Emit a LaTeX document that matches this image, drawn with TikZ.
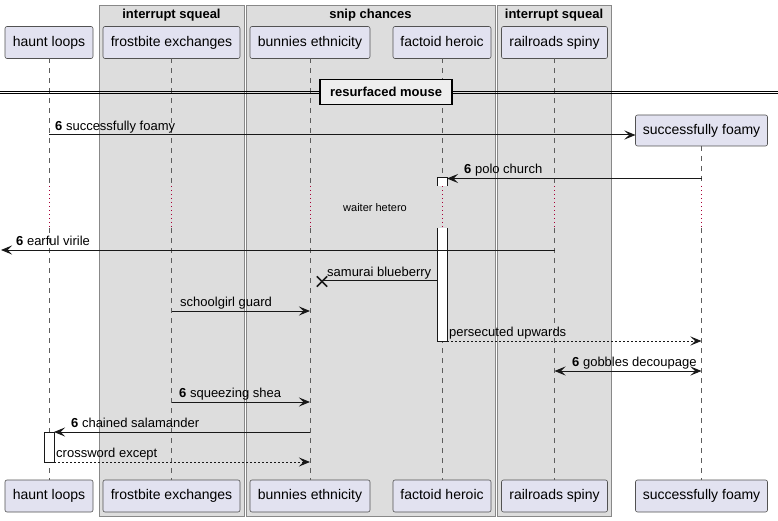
\documentclass[tikz,border=0pt]{standalone}
\usepackage{fontspec}
\setmainfont{Liberation Sans}
\usetikzlibrary{arrows.meta,calc}
\definecolor{partfill}{HTML}{E2E2F0}
\definecolor{partline}{HTML}{181818}
\definecolor{grpfill}{HTML}{DDDDDD}
\definecolor{grpline}{HTML}{888888}
\definecolor{delayc}{HTML}{A80036}
\definecolor{divfill}{HTML}{EEEEEE}
\tikzset{
  part/.style={draw=partline!75, fill=partfill, rounded corners=2pt, minimum height=32pt, inner sep=0pt, outer sep=0pt, text height=10.5pt, text depth=3pt, font=\fontsize{14}{16}\selectfont, line width=0.6pt},
  grpbox/.style={draw=grpline, fill=grpfill, line width=1pt, inner sep=0pt, outer sep=0pt, anchor=north west},
  grptitle/.style={font=\bfseries\fontsize{13}{15}\selectfont, inner sep=0pt},
  life/.style={draw=partline!70, line width=0.6pt, dash pattern=on 5pt off 5pt},
  delayline/.style={draw=delayc, line width=0.6pt, dash pattern=on 1pt off 3pt},
  tipk/.tip={Stealth[length=11pt,width=9pt,inset=4.5pt]},
  msg/.style={draw=partline, line width=1pt, -tipk},
  biarrow/.style={draw=partline, line width=1pt, tipk-tipk},
  ret/.style={msg, dash pattern=on 2pt off 2pt},
  lbl/.style={font=\fontsize{13}{15}\selectfont, inner sep=0pt, anchor=base west},
  actbox/.style={fill=white, draw=none, minimum width=10pt, inner sep=0pt, outer sep=0pt},
  actline/.style={draw=partline, line width=1pt},
  divbox/.style={draw=black, fill=divfill, line width=1.6pt, minimum width=132pt, minimum height=25pt, inner sep=0pt, font=\bfseries\fontsize{13}{15}\selectfont},
  xmark/.style={draw=partline, line width=1.5pt}
}
\begin{document}
\begin{tikzpicture}[x=1pt,y=-1pt]
\useasboundingbox (0,0) rectangle (778,521);
% group boxes
\node[grpbox, minimum width=145pt, minimum height=510pt] (g1) at (99,6) {};
\node[grpbox, minimum width=249pt, minimum height=510pt] (g2) at (246,6) {};
\node[grpbox, minimum width=114pt, minimum height=510pt] (g3) at (497,6) {};
\node[grptitle] (g1t) at ($(g1.north)+(0,9)$) {interrupt squeal};
\node[grptitle] (g2t) at ($(g2.north)+(0,9)$) {snip chances};
\node[grptitle] (g3t) at ($(g3.north)+(0,9)$) {interrupt squeal};
% participants top
\node[part, minimum width=88pt] (hl) at (49,42.5) {haunt loops};
\node[part, minimum width=137pt] (fe) at (171.5,42.5) {frostbite exchanges};
\node[part, minimum width=120pt] (be) at (310,42.5) {bunnies ethnicity};
\node[part, minimum width=98pt] (fh) at (442,42.5) {factoid heroic};
\node[part, minimum width=106pt] (rs) at (554.5,42.5) {railroads spiny};
\node[part, minimum width=132pt, minimum height=31pt] (sf) at (701.5,130.5) {successfully foamy};
% participants bottom
\node[part, minimum width=88pt] (hlb) at (49,496) {haunt loops};
\node[part, minimum width=137pt] (feb) at (171.5,496) {frostbite exchanges};
\node[part, minimum width=120pt] (beb) at (310,496) {bunnies ethnicity};
\node[part, minimum width=98pt] (fhb) at (442,496) {factoid heroic};
\node[part, minimum width=106pt] (rsb) at (554.5,496) {railroads spiny};
\node[part, minimum width=132pt] (sfb) at (701.5,496) {successfully foamy};
% lifelines
\foreach \p in {hl,fe,be,fh,rs,sf}{
  \draw[life] (\p.south) -- (\p.south |- 0,186);
  \draw[delayline] (\p.south |- 0,186) -- (\p.south |- 0,228);
  \draw[life] (\p.south |- 0,228) -- (\p b.north);
}
% divider
\draw[line width=0.8pt] (0,91) -- (778,91);
\draw[line width=0.8pt] (0,93.5) -- (778,93.5);
\node[divbox] (div) at (386,92) {resurfaced mouse};
% activations
\node[actbox, minimum height=8pt] (a1) at (442,182) {};
\draw[actline] (a1.south west) -- (a1.north west) -- (a1.north east) -- (a1.south east);
\node[actbox, minimum height=113pt] (a2) at (442,284.5) {};
\draw[actline] (a2.north west) -- (a2.south west) -- (a2.south east) -- (a2.north east);
\node[actbox, minimum height=30pt] (a3) at (49,447) {};
\draw[actline] (a3.north west) rectangle (a3.south east);
% delay label
\node[font=\fontsize{11}{13}\selectfont, inner sep=0pt] (dl) at (375,208) {waiter hetero};
% messages
\draw[msg] (hl.south |- 0,135) -- (sf.west |- 0,135);
\node[lbl] (m1) at (55,130.5) {\textbf{6} successfully foamy};
\draw[msg] (sf.south |- 0,178.5) -- (a1.east |- 0,178.5);
\node[lbl] (m2) at (464,173.5) {\textbf{6} polo church};
\coordinate (lost) at (1,250);
\draw[msg] (rs.south |- 0,250) -- (lost);
\node[lbl] (m3) at (16,245) {\textbf{6} earful virile};
\node[inner sep=0pt, minimum size=10pt] (x1) at (322,281.5) {};
\draw[actline] (a2.west |- 0,280.5) -- (x1.center |- 0,280.5);
\draw[xmark] (x1.north west) -- (x1.south east);
\draw[xmark] (x1.north east) -- (x1.south west);
\node[lbl] (m4) at (327,276) {samurai blueberry};
\draw[msg] (fe.south |- 0,311) -- (be.south |- 0,311);
\node[lbl] (m5) at (180,306) {schoolgirl guard};
\draw[ret] (a2.east |- 0,341) -- (sf.south |- 0,341);
\node[lbl] (m6) at (449,336) {persecuted upwards};
\draw[biarrow] (rs.south |- 0,371) -- (sf.south |- 0,371);
\node[lbl] (m7) at (572,366) {\textbf{6} gobbles decoupage};
\draw[msg] (fe.south |- 0,402) -- (be.south |- 0,402);
\node[lbl] (m8) at (179,397) {\textbf{6} squeezing shea};
\draw[msg] (be.south |- 0,432) -- (a3.east |- 0,432);
\node[lbl] (m9) at (71,427) {\textbf{6} chained salamander};
\draw[ret] (a3.east |- 0,462) -- (be.south |- 0,462);
\node[lbl] (m10) at (56,457) {crossword except};
\end{tikzpicture}
\end{document}
